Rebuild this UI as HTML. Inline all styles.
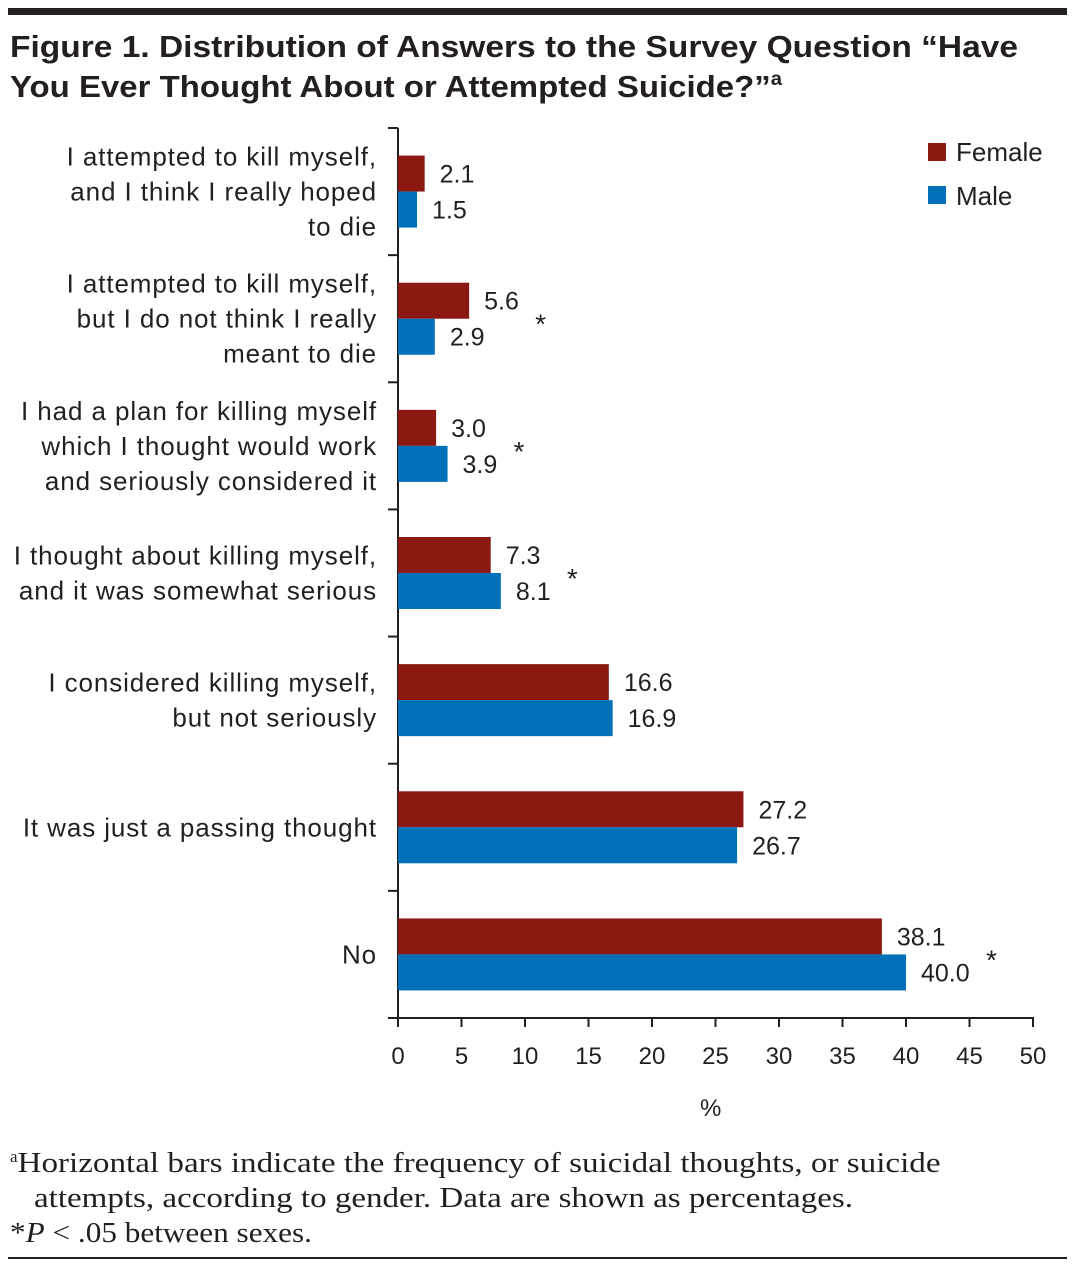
<!DOCTYPE html>
<html><head><meta charset="utf-8">
<style>
body{margin:0;background:#fff;width:1077px;height:1266px;overflow:hidden;font-family:"Liberation Sans",sans-serif}
svg{display:block}
</style></head>
<body>
<svg id="chart" width="1077" height="1266" xmlns="http://www.w3.org/2000/svg">
<rect x="8" y="8" width="1059" height="7" fill="#231f20"/>
<text x="10" y="57" font-size="31" font-weight="bold" fill="#231f20" textLength="1008" lengthAdjust="spacingAndGlyphs">Figure 1. Distribution of Answers to the Survey Question “Have</text>
<text x="10" y="97" font-size="31" font-weight="bold" fill="#231f20" textLength="772" lengthAdjust="spacingAndGlyphs">You Ever Thought About or Attempted Suicide?”<tspan font-size="19" dy="-12">a</tspan></text>
<g id="plot"></g>
<rect x="928" y="143" width="18" height="18" fill="#8b1912"/>
<text x="956" y="161" font-size="26" fill="#231f20">Female</text>
<rect x="928" y="186" width="18" height="18" fill="#0070b8"/>
<text x="956" y="205" font-size="26" fill="#231f20">Male</text>
<text x="700" y="1116" font-size="24" fill="#231f20">%</text>
<g font-family="'Liberation Serif',serif" font-size="28" fill="#231f20">
<text x="10" y="1172"><tspan font-size="17" dy="-10">a</tspan><tspan dy="10" textLength="923" lengthAdjust="spacingAndGlyphs">Horizontal bars indicate the frequency of suicidal thoughts, or suicide</tspan></text>
<text x="34" y="1207" textLength="819" lengthAdjust="spacingAndGlyphs">attempts, according to gender. Data are shown as percentages.</text>
<text x="10" y="1242" textLength="302" lengthAdjust="spacingAndGlyphs">*<tspan font-style="italic">P</tspan> &lt; .05 between sexes.</text>
</g>
<rect x="8" y="1257" width="1059" height="2" fill="#231f20"/>
</svg>
<script>
const categories=[
 ["I attempted to kill myself,","and I think I really hoped","to die"],
 ["I attempted to kill myself,","but I do not think I really","meant to die"],
 ["I had a plan for killing myself","which I thought would work","and seriously considered it"],
 ["I thought about killing myself,","and it was somewhat serious"],
 ["I considered killing myself,","but not seriously"],
 ["It was just a passing thought"],
 ["No"]];
const femaleValues=[2.1,5.6,3.0,7.3,16.6,27.2,38.1];
const maleValues=[1.5,2.9,3.9,8.1,16.9,26.7,40.0];
const significant=[false,true,true,true,false,false,true];
const xTicks=[0,5,10,15,20,25,30,35,40,45,50];
const NS="http://www.w3.org/2000/svg";
const g=document.getElementById('plot');
const x0=398,x1=1033,yTop=128,yBot=1018,xMax=50;
const xs=v=>x0+v/xMax*(x1-x0);
const band=(yBot-yTop)/categories.length;
const yc=i=>yTop+band*(i+0.5);
function mk(t,a){const e=document.createElementNS(NS,t);for(const k in a)e.setAttribute(k,a[k]);g.appendChild(e);return e;}
const ax=mk('line',{x1:x0,y1:yTop,x2:x0,y2:yBot,stroke:'#231f20','stroke-width':2});


const bx=mk('line',{x1:x0-1,y1:yBot,x2:x1+1,y2:yBot,stroke:'#231f20','stroke-width':2});


for(let i=0;i<=categories.length;i++){
 const y=yTop+band*i;
 const t=mk('line',{x1:x0-10,y1:y,x2:x0,y2:y,stroke:'#231f20','stroke-width':2});
 
 
}
xTicks.forEach(v=>{
 const t=mk('line',{x1:xs(v),y1:yBot,x2:xs(v),y2:yBot+9,stroke:'#231f20','stroke-width':2});
 
 
 const l=mk('text',{x:xs(v),y:yBot+46,'font-size':24,'text-anchor':'middle',fill:'#231f20'});
 l.textContent=v;
 
 
});
const bh=36;
categories.forEach((lines,i)=>{
 const c=yc(i);
 const n=lines.length, lh=35;
 lines.forEach((s,j)=>{
  const t=mk('text',{x:377,y:c+(j-(n-1)/2)*lh+9,'font-size':26,'letter-spacing':0.9,'text-anchor':'end',fill:'#231f20'});
  t.textContent=s;
  
  
 });
 const fb=mk('rect',{x:x0,y:c-bh,width:xs(femaleValues[i])-x0,height:bh,fill:'#8b1912'});
 
 
 const mb=mk('rect',{x:x0,y:c,width:xs(maleValues[i])-x0,height:bh,fill:'#0070b8'});
 
 
 const fl=mk('text',{x:xs(femaleValues[i])+15,y:c-bh/2+9,'font-size':25,fill:'#231f20'});
 fl.textContent=femaleValues[i].toFixed(1);
 
 
 const ml=mk('text',{x:xs(maleValues[i])+15,y:c+bh/2+9,'font-size':25,fill:'#231f20'});
 ml.textContent=maleValues[i].toFixed(1);
 
 
 if(significant[i]){
  const m=Math.max(femaleValues[i],maleValues[i]);
  const st=mk('text',{x:xs(m)+(m>=10?80:66),y:c+15,'font-size':28,fill:'#231f20'});
  st.textContent='*';
  
  
 }
});
</script>
</body></html>
